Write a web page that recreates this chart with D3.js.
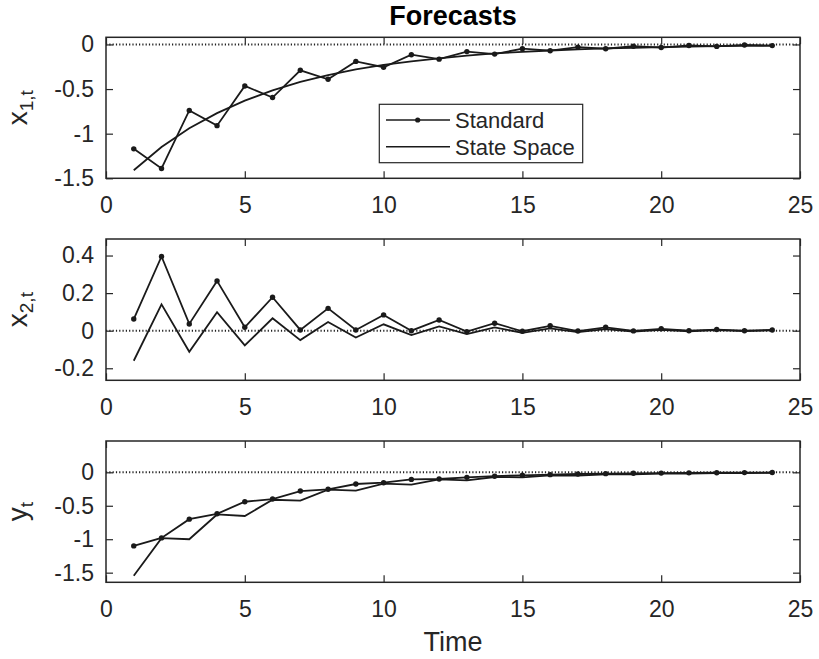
<!DOCTYPE html>
<html>
<head>
  <meta charset='utf-8'>
  <title>Forecasts</title>
  <script src="https://cdn.jsdelivr.net/npm/d3@7"></script>
  <style>
    body { margin: 0; background: #fff; }
    svg text { font-family: 'Liberation Sans', Arial, sans-serif; fill: #262626; }
  </style>
</head>
<body>
  <svg width=819 height=659></svg>
</body>
</html>

<script>

  // time steps of the forecast horizon
  let steps = d3.range(1, 25);

  // x_{1,t}
  let x1Standard = [-1.17, -1.39, -0.74, -0.91, -0.465, -0.595, -0.29, -0.39, -0.19, -0.255, -0.115, -0.165,
                    -0.08, -0.108, -0.048, -0.07, -0.03, -0.048, -0.02, -0.035, -0.012, -0.022, -0.006, -0.013];
  let x1StateSpace = [-1.41, -1.15, -0.94, -0.77, -0.63, -0.515, -0.42, -0.345, -0.28, -0.23, -0.19, -0.155,
                      -0.125, -0.10, -0.083, -0.068, -0.055, -0.045, -0.037, -0.03, -0.025, -0.02, -0.017, -0.014];

  // x_{2,t}
  let x2Standard = [0.062, 0.395, 0.036, 0.265, 0.018, 0.178, 0.004, 0.119, 0.004, 0.084, 0.0, 0.057,
                    -0.005, 0.04, -0.003, 0.026, -0.002, 0.018, -0.001, 0.01, 0.0, 0.006, 0.0, 0.004];
  let x2StateSpace = [-0.16, 0.14, -0.112, 0.098, -0.078, 0.066, -0.05, 0.046, -0.036, 0.034, -0.023, 0.023,
                      -0.018, 0.018, -0.012, 0.012, -0.008, 0.008, -0.005, 0.005, -0.003, 0.003, -0.002, 0.002];

  // y_t
  let yStandard = [-1.1, -0.98, -0.7, -0.62, -0.44, -0.4, -0.28, -0.254, -0.175, -0.155, -0.106, -0.1,
                   -0.075, -0.058, -0.045, -0.035, -0.025, -0.02, -0.015, -0.012, -0.008, -0.006, -0.004, -0.003];
  let yStateSpace = [-1.545, -0.985, -1.0, -0.63, -0.653, -0.41, -0.424, -0.26, -0.275, -0.17, -0.185, -0.105,
                     -0.12, -0.07, -0.075, -0.045, -0.048, -0.03, -0.03, -0.02, -0.02, -0.012, -0.012, -0.008];

  let xTicks = [0, 5, 10, 15, 20, 25];
  let legendLabels = ['Standard', 'State Space'];

  let panels = [
    {label: ['x', '1,t'], std: x1Standard, ss: x1StateSpace, domain: [-1.5, 0.08], ticks: [-1.5, -1, -0.5, 0], top: 37.3, bottom: 178.3},
    {label: ['x', '2,t'], std: x2Standard, ss: x2StateSpace, domain: [-0.264, 0.488], ticks: [-0.2, 0, 0.2, 0.4], top: 239, bottom: 380.3},
    {label: ['y', 't'], std: yStandard, ss: yStateSpace, domain: [-1.644, 0.468], ticks: [-1.5, -1, -0.5, 0], top: 441, bottom: 582.3}
  ];

  let ink = '#1a1a1a';
  let axisColor = '#262626';
  let left = 106, right = 800;

  let svg = d3.select('svg');

  let x = d3.scaleLinear().domain([0, 25]).range([left, right]);

  panels.forEach(function (p, i) {
    let y = d3.scaleLinear().domain(p.domain).range([p.bottom, p.top]);
    let g = svg.append('g');

    // zero reference line
    g.append('line')
      .attr('x1', x(0)).attr('x2', x(25))
      .attr('y1', y(0)).attr('y2', y(0))
      .attr('stroke', '#222')
      .attr('stroke-width', 2)
      .attr('stroke-dasharray', '1.2,2.1');

    let line = d3.line()
      .x((d, j) => x(steps[j]))
      .y(d => y(d));

    g.append('path')
      .attr('d', line(p.ss))
      .attr('fill', 'none')
      .attr('stroke', ink)
      .attr('stroke-width', 1.8);

    g.append('path')
      .attr('d', line(p.std))
      .attr('fill', 'none')
      .attr('stroke', ink)
      .attr('stroke-width', 1.8);

    g.selectAll('circle')
      .data(p.std)
      .enter()
      .append('circle')
        .attr('cx', (d, j) => x(steps[j]))
        .attr('cy', d => y(d))
        .attr('r', 2.7)
        .attr('fill', ink);

    // axes, ticks inward on all four sides
    let fmt = d => String(d);
    let bottomAxis = g.append('g')
      .attr('transform', `translate(0,${p.bottom})`)
      .call(d3.axisBottom(x).tickValues(xTicks).tickSize(-7).tickPadding(18).tickFormat(fmt));
    let topAxis = g.append('g')
      .attr('transform', `translate(0,${p.top})`)
      .call(d3.axisTop(x).tickValues(xTicks).tickSize(-7).tickFormat(''));
    let leftAxis = g.append('g')
      .attr('transform', `translate(${left},0)`)
      .call(d3.axisLeft(y).tickValues(p.ticks).tickSize(-7).tickPadding(12).tickFormat(fmt));
    let rightAxis = g.append('g')
      .attr('transform', `translate(${right},0)`)
      .call(d3.axisRight(y).tickValues(p.ticks).tickSize(-7).tickFormat(''));

    [bottomAxis, topAxis, leftAxis, rightAxis].forEach(function (a) {
      a.select('.domain').remove();
      a.selectAll('line').attr('stroke', axisColor).attr('stroke-width', 1.2);
      a.selectAll('text')
        .style('font-family', "'Liberation Sans', Arial, sans-serif")
        .style('font-size', '23px')
        .attr('fill', axisColor);
    });

    g.append('rect')
      .attr('x', left).attr('y', p.top)
      .attr('width', right - left).attr('height', p.bottom - p.top)
      .attr('fill', 'none')
      .attr('stroke', axisColor)
      .attr('stroke-width', 1.5);

    // rotated y label with subscript
    let lbl = g.append('text')
      .attr('transform', `translate(27,${(p.top + p.bottom) / 2}) rotate(-90)`)
      .attr('text-anchor', 'middle')
      .style('font-size', '28px');
    lbl.append('tspan').text(p.label[0]);
    lbl.append('tspan').attr('dy', 6).style('font-size', '19px').text(p.label[1]);
  });

  // title and x label
  svg.append('text')
    .attr('x', (left + right) / 2).attr('y', 25)
    .attr('text-anchor', 'middle')
    .style('font-size', '27px')
    .style('font-weight', 'bold')
    .style('fill', '#000')
    .text('Forecasts');

  svg.append('text')
    .attr('x', (left + right) / 2).attr('y', 651)
    .attr('text-anchor', 'middle')
    .style('font-size', '27px')
    .text('Time');

  // legend in the top panel
  let legend = svg.append('g').attr('transform', 'translate(379.3,104.3)');
  legend.append('rect')
    .attr('width', 203.4).attr('height', 58.4)
    .attr('fill', '#fff')
    .attr('stroke', axisColor)
    .attr('stroke-width', 1.2);

  legendLabels.forEach(function (name, i) {
    let ly = 15.7 + i * 26.7;
    legend.append('line')
      .attr('x1', 6.7).attr('x2', 70.7)
      .attr('y1', ly).attr('y2', ly)
      .attr('stroke', ink).attr('stroke-width', 1.6);
    if (i == 0)
      legend.append('circle').attr('cx', 38.4).attr('cy', ly).attr('r', 2.6).attr('fill', ink);
    legend.append('text')
      .attr('x', 75.7).attr('y', ly + 8)
      .style('font-size', '22px')
      .text(name);
  });

</script>
